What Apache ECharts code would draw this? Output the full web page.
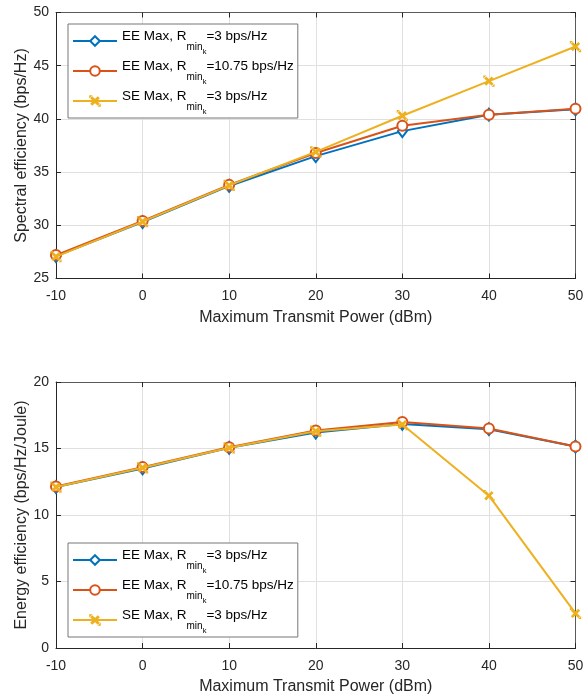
<!DOCTYPE html>
<html><head><meta charset="utf-8">
<script src="https://cdn.jsdelivr.net/npm/echarts@6/dist/echarts.min.js"></script>
<style>html,body{margin:0;padding:0;background:#fff}#c{width:588px;height:696px}</style>
</head><body><div id="c"></div>
<script>
const powerDbm = [-10, 0, 10, 20, 30, 40, 50];
const seEE3 = [27.1, 30.3, 33.7, 36.5, 38.85, 40.4, 40.9];
const seEE1075 = [27.2, 30.4, 33.8, 36.8, 39.35, 40.4, 40.95];
const seSE3 = [27.05, 30.35, 33.75, 36.9, 40.3, 43.55, 46.8];
const eeEE3 = [12.1, 13.5, 15.05, 16.2, 16.85, 16.45, 15.15];
const eeEE1075 = [12.15, 13.6, 15.1, 16.35, 17.0, 16.5, 15.15];
const eeSE3 = [12.1, 13.55, 15.05, 16.3, 16.8, 11.45, 2.6];
const seRange = [25, 50];
const eeRange = [0, 20];
const xRange = [-10, 50];
const seriesNames = ['EE Max, Rmink=3 bps/Hz', 'EE Max, Rmink=10.75 bps/Hz', 'SE Max, Rmink=3 bps/Hz'];
const legendPrefix = ['EE Max, R', 'EE Max, R', 'SE Max, R'];
const legendSuffix = ['=3 bps/Hz', '=10.75 bps/Hz', '=3 bps/Hz'];
const xTitle = 'Maximum Transmit Power (dBm)';
const seTitle = 'Spectral efficiency (bps/Hz)';
const eeTitle = 'Energy efficiency (bps/Hz/Joule)';

const colors = ['#0072BD', '#D95319', '#EDB120'];
const xMark = 'path://M-2,-2L-1.99,-2L-2,-1.99ZM12,12L11.99,12L12,11.99ZM0,1L1,0L5,4L9,0L10,1L6,5L10,9L9,10L5,6L1,10L0,9L4,5Z';
const symbols = ['emptyDiamond', 'emptyCircle', xMark];
const symSizes = [[9, 12], 10, 9.5];
const FONT = 'Liberation Sans, Arial, Helvetica, sans-serif';

function pairs(vals) { return powerDbm.map((x, i) => [x, vals[i]]); }

function mkSeries(vals, i, xi, yi) {
  return {
    type: 'line', name: seriesNames[i], xAxisIndex: xi, yAxisIndex: yi,
    data: pairs(vals), symbol: symbols[i], symbolSize: symSizes[i],
    showAllSymbol: true, clip: false,
    lineStyle: { color: colors[i], width: 2 },
    itemStyle: { color: colors[i], borderColor: colors[i], borderWidth: 1.8 },
    emphasis: { disabled: true }, z: 2 + i
  };
}

function xAxes(gi) {
  return [
    { type: 'value', gridIndex: gi, position: 'bottom', min: xRange[0], max: xRange[1], interval: 10,
      name: xTitle, nameLocation: 'middle', nameGap: 31, nameMoveOverlap: false,
      nameTextStyle: { fontFamily: FONT, fontSize: 16, color: '#262626' },
      axisLine: { show: true, onZero: false, lineStyle: { color: '#262626', width: 1 } },
      axisTick: { show: true, inside: true, length: 5, lineStyle: { color: '#262626' } },
      axisLabel: { fontFamily: FONT, fontSize: 14, color: '#262626', margin: 11 },
      splitLine: { show: true, lineStyle: { color: '#e0e0e0', width: 1 } } },
    { type: 'value', gridIndex: gi, position: 'top', min: xRange[0], max: xRange[1], interval: 10,
      axisLine: { show: true, onZero: false, lineStyle: { color: '#5a5a5a', width: 1 } },
      axisTick: { show: true, inside: true, length: 5, lineStyle: { color: '#262626' } },
      axisLabel: { show: false }, splitLine: { show: false } }
  ];
}
function yAxes(gi, rng, title) {
  return [
    { type: 'value', gridIndex: gi, position: 'left', min: rng[0], max: rng[1], interval: 5,
      name: title, nameLocation: 'middle', nameGap: 26, nameMoveOverlap: false,
      nameTextStyle: { fontFamily: FONT, fontSize: 16, color: '#262626' },
      axisLine: { show: true, onZero: false, lineStyle: { color: '#262626', width: 1 } },
      axisTick: { show: true, inside: true, length: 5, lineStyle: { color: '#262626' } },
      axisLabel: { fontFamily: FONT, fontSize: 14, color: '#262626', margin: 7 },
      splitLine: { show: true, lineStyle: { color: '#e0e0e0', width: 1 } } },
    { type: 'value', gridIndex: gi, position: 'right', min: rng[0], max: rng[1], interval: 5,
      axisLine: { show: true, onZero: false, lineStyle: { color: '#5a5a5a', width: 1 } },
      axisTick: { show: true, inside: true, length: 5, lineStyle: { color: '#262626' } },
      axisLabel: { show: false }, splitLine: { show: false } }
  ];
}

const richStyle = {
  m: { fontFamily: FONT, fontSize: 13.5, lineHeight: 26, padding: [1.5, 0, 0, 0], verticalAlign: 'top', color: '#000' },
  s: { fontFamily: FONT, fontSize: 10, lineHeight: 26, padding: [14, 0, 0, 0], verticalAlign: 'top', color: '#000' },
  k: { fontFamily: FONT, fontSize: 7.5, lineHeight: 26, padding: [20, 0, 0, 0], verticalAlign: 'top', color: '#000' }
};
function legendFmt(name) {
  const i = seriesNames.indexOf(name);
  return '{m|' + legendPrefix[i] + '}{s|min}{k|k}{m|' + legendSuffix[i] + '}';
}
function mkLegend(top) {
  return {
    data: seriesNames, orient: 'vertical', left: 68, top: top,
    itemWidth: 44, itemHeight: 12, itemGap: 2, padding: [4, 4, 2, 4],
    backgroundColor: '#fff', borderColor: '#777', borderWidth: 1, borderRadius: 0,
    selectedMode: false, formatter: legendFmt,
    textStyle: { fontFamily: FONT, fontSize: 13.5, color: '#000', rich: richStyle }
  };
}

const chart = echarts.init(document.getElementById('c'), null, { renderer: 'canvas' });
chart.setOption({
  animation: false,
  backgroundColor: '#fff',
  grid: [
    { left: 56, top: 12.5, width: 519.5, height: 266 },
    { left: 56, top: 382, width: 519.5, height: 266 }
  ],
  xAxis: xAxes(0).concat(xAxes(1)),
  yAxis: yAxes(0, seRange, seTitle).concat(yAxes(1, eeRange, eeTitle)),
  legend: [mkLegend(24), mkLegend(543)],
  series: [
    mkSeries(seEE3, 0, 0, 0), mkSeries(seEE1075, 1, 0, 0), mkSeries(seSE3, 2, 0, 0),
    mkSeries(eeEE3, 0, 2, 2), mkSeries(eeEE1075, 1, 2, 2), mkSeries(eeSE3, 2, 2, 2)
  ]
});
</script></body></html>
